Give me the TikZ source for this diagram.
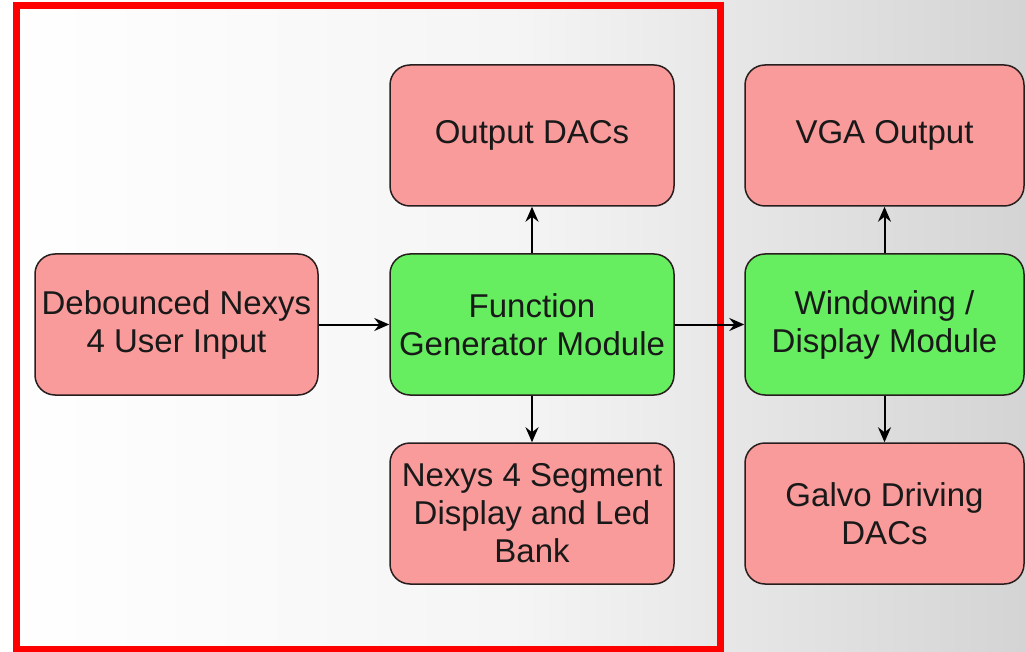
\documentclass[tikz,border=0pt]{standalone}
\usepackage{fontspec}
\setmainfont{Liberation Sans}
\usetikzlibrary{arrows.meta}
\definecolor{boxpink}{RGB}{249,155,155}
\definecolor{boxgreen}{RGB}{102,238,96}
\definecolor{boxline}{RGB}{40,30,30}
\definecolor{bgright}{RGB}{212,212,212}
\tikzset{
  blk/.style={draw=boxline, line width=1.5pt, rounded corners=20pt, inner sep=0pt,
    minimum width=#1, minimum height=141pt, align=center, text=black!90,
    font=\fontsize{33}{38}\selectfont},
  pinkbox/.style={blk=284pt, fill=boxpink},
  greenbox/.style={blk=284pt, fill=boxgreen},
  conn/.style={line width=2pt, -{Stealth[length=15pt,width=13pt,inset=5pt]}}
}
\begin{document}
\begin{tikzpicture}[x=1pt,y=-1pt]
\useasboundingbox (0,0) rectangle (1025,652);
\shade[left color=white, right color=bgright, middle color=white!96!black] (0,0) rectangle (1025,652);
\draw[red, line width=7pt] (16,6) rectangle (720,649);
\node[pinkbox, minimum width=283pt] (deb) at (176.5,324.5) {Debounced Nexys\\4 User Input};
\node[pinkbox] (out) at (532,135.5) {Output DACs};
\node[greenbox] (fun) at (532,324.5) {Function\\Generator Module};
\node[pinkbox] (nex) at (532,513.5) {Nexys 4 Segment\\Display and Led\\Bank};
\node[pinkbox, minimum width=279pt] (vga) at (884.5,135.5) {VGA Output};
\node[greenbox, minimum width=279pt] (win) at (884.5,324.5) {Windowing /\\Display Module};
\node[pinkbox, minimum width=279pt] (gal) at (884.5,513.5) {Galvo Driving\\DACs};
\draw[conn] (deb) -- (fun);
\draw[conn] (fun) -- (out);
\draw[conn] (fun) -- (nex);
\draw[conn] (fun) -- (win);
\draw[conn] (win) -- (vga);
\draw[conn] (win) -- (gal);
\end{tikzpicture}
\end{document}
